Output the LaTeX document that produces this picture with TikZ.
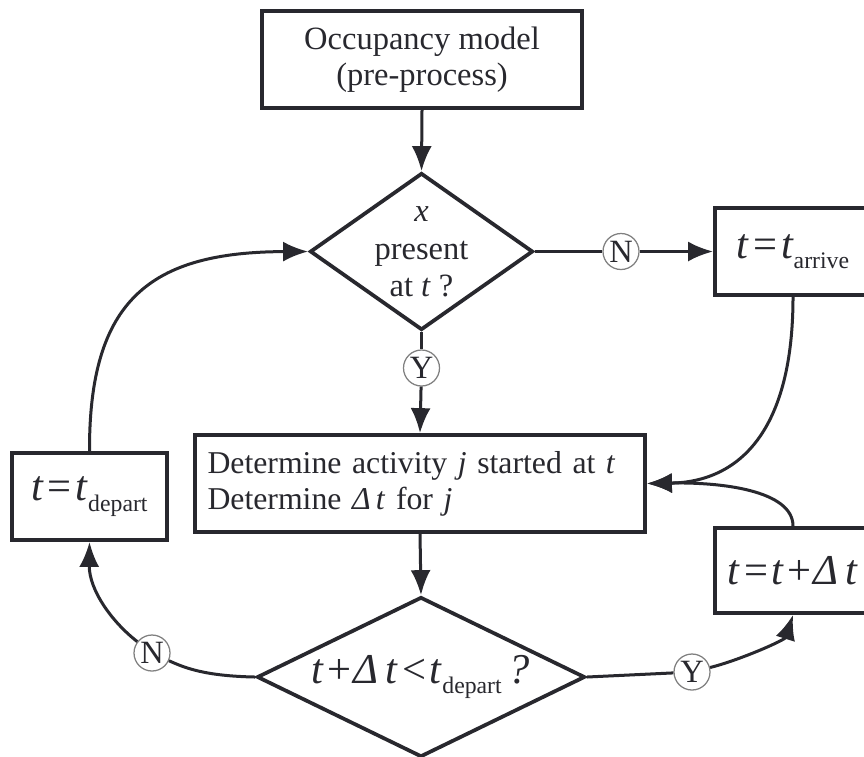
\documentclass[tikz,border=0pt]{standalone}
\usepackage{fontspec}
\setmainfont{Liberation Serif}
\usetikzlibrary{shapes.geometric,arrows.meta}
\definecolor{ink}{RGB}{40,40,46}
\newcommand{\lowtxt}[1]{\raisebox{-0.55ex}{\fontsize{9.5}{10}\selectfont #1}}
\begin{document}
\begin{tikzpicture}[x=0.4pt,y=-0.4pt,
  box/.style={draw=ink, line width=1.5pt, rectangle, inner sep=0pt, align=center, text=ink, font=\fontsize{13}{14.5}\selectfont},
  dia/.style={draw=ink, line width=1.5pt, diamond, inner sep=0pt},
  lbl/.style={text=ink, align=center, inner sep=0pt, font=\fontsize{13}{15}\selectfont},
  big/.style={font=\fontsize{17}{19}\selectfont},
  yn/.style={circle, draw=gray, line width=0.5pt, fill=white, minimum size=14.4pt, inner sep=0pt, text=ink, font=\fontsize{13}{13}\selectfont},
  conn/.style={draw=ink, line width=1.2pt},
  arr/.style={conn, -{Latex[length=10pt,width=8pt]}}]
\useasboundingbox (0,0) rectangle (864,756);
\clip (0,0) rectangle (864,756);
\fill[white] (0,0) rectangle (864,756);

% nodes
\node[box, minimum width=128pt, minimum height=38.8pt] (top) at (422,59.5) {Occupancy model\\(pre-process)};
\node[dia, minimum width=89.2pt, minimum height=62.8pt] (d1) at (421.5,251.5) {};
\node[lbl] (d1t) at (421.5,252) {\textit{x}\\present\\at \textit{t} ?};
\node[box, big, minimum width=62.4pt, minimum height=34.8pt] (arrb) at (793,251.5) {\textit{t}\kern1.5pt=\kern1.5pt\textit{t}\lowtxt{arrive}};
\node[box, minimum width=180pt, minimum height=38.8pt, align=left, text width=170pt, inner xsep=5pt, font=\fontsize{12.7}{14.5}\selectfont] (proc) at (420,483.5) {Determine activity \textit{j} started at \textit{t}\\Determine \textit{Δ\,t} for \textit{j}};
\node[box, big, minimum width=62pt, minimum height=34.8pt] (dep) at (89.5,496.5) {\textit{t}\kern1.5pt=\kern1.5pt\textit{t}\lowtxt{depart}};
\node[dia, minimum width=131.2pt, minimum height=64pt] (d2) at (421,677) {};
\node[lbl, big] (d2t) at (421,677) {\textit{t}\kern1pt+\kern1pt\textit{Δ\,t}\kern1.5pt<\kern1.5pt\textit{t}\lowtxt{depart}\,\textit{?}};
\node[box, big, minimum width=62.4pt, minimum height=34pt] (upd) at (793,570.5) {\textit{t}\kern1.5pt=\kern1.5pt\textit{t}\kern1pt+\kern1pt\textit{Δ\,t}};
\node[yn] (n1) at (621,251.5) {N};
\node[yn] (y1) at (421.5,368) {Y};
\node[yn] (n2) at (152,653) {N};
\node[yn] (y2) at (692,672) {Y};

% connectors
\draw[arr] (top.south) -- (d1.north);
\draw[conn] (d1.east) -- (n1);
\draw[arr] (n1) -- (arrb.west);
\draw[conn] (d1.south) -- (y1);
\draw[arr] (y1) -- (proc.north);
\draw[arr] (arrb.south) .. controls (793,430) and (740,482) .. (proc.east);
\draw[arr] (upd.north) .. controls (793,490) and (720,482) .. (proc.east);
\draw[arr] (proc.south) -- (d2.north);
\draw[conn] (d2.west) .. controls (205,676) and (185,668) .. (n2);
\draw[arr] (n2) .. controls (112,622) and (89,590) .. (dep.south);
\draw[conn] (d2.east) -- (y2);
\draw[arr] (y2) .. controls (740,660) and (785,640) .. (upd.south);
\draw[arr] (dep.north) .. controls (89,300) and (150,252) .. (d1.west);
\end{tikzpicture}
\end{document}
